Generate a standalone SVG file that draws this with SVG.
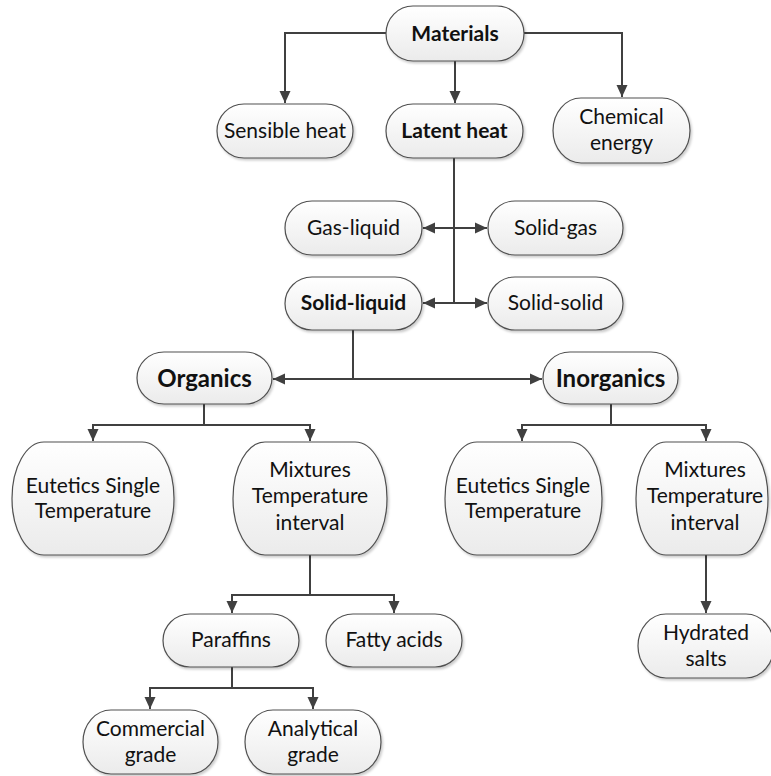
<svg xmlns="http://www.w3.org/2000/svg" width="771" height="776" viewBox="0 0 771 776">
<style>
.box{fill:url(#g);stroke:#505050;stroke-width:1.2;filter:url(#sh)}
.t{font-family:Lato,"Liberation Sans",sans-serif;font-size:21px;fill:#111;text-anchor:middle}
.b{font-weight:bold}
.big{font-size:24px}
.c{fill:none;stroke:#404040;stroke-width:2}
.a{fill:none;stroke:#404040;stroke-width:2;marker-end:url(#ar)}
</style>
<defs>
<linearGradient id="g" x1="0" y1="0" x2="0" y2="1"><stop offset="0" stop-color="#ffffff"/><stop offset="1" stop-color="#ebebeb"/></linearGradient>
<filter id="sh" x="-10%" y="-10%" width="130%" height="130%"><feDropShadow dx="1.5" dy="2" stdDeviation="1.2" flood-color="#000" flood-opacity="0.2"/></filter>
<marker id="ar" markerWidth="12" markerHeight="12" viewBox="0 0 12 12" refX="12" refY="6" orient="auto" markerUnits="userSpaceOnUse"><path d="M0,0.5 L12,6 L0,11.5 Z" fill="#404040"/></marker>
</defs>
<rect width="771" height="776" fill="#fff"/>
<g id="connectors">
<path class="a" d="M386,33 H285 V103"/>
<path class="a" d="M455,61 V103"/>
<path class="a" d="M524,33 H622 V97"/>
<path class="c" d="M454,158 V303"/>
<path class="a" d="M454,228 H423"/>
<path class="a" d="M454,228 H487"/>
<path class="a" d="M454,303 H423"/>
<path class="a" d="M454,303 H487"/>
<path class="c" d="M353,330 V379"/>
<path class="a" d="M353,379 H273"/>
<path class="a" d="M353,379 H542"/>
<path class="a" d="M204,404 V425 H93 V441"/>
<path class="a" d="M204,425 H310 V441"/>
<path class="a" d="M611,404 V425 H522 V441"/>
<path class="a" d="M611,425 H706 V441"/>
<path class="a" d="M310,555 V595 H232 V613"/>
<path class="a" d="M310,595 H394 V613"/>
<path class="a" d="M232,667 V688 H150 V709"/>
<path class="a" d="M232,688 H313 V709"/>
<path class="a" d="M706,555 V613"/>
</g>
<g id="materials"><rect class="box" x="386" y="6" width="138" height="55" rx="27" ry="27.5"/><text class="t b" x="455" y="41">Materials</text></g>
<g id="sensible"><rect class="box" x="217" y="104" width="136" height="54" rx="27" ry="27"/><text class="t" x="285" y="138">Sensible heat</text></g>
<g id="latent"><rect class="box" x="386" y="104" width="137" height="54" rx="27" ry="27"/><text class="t b" x="454.5" y="138">Latent heat</text></g>
<g id="chemical"><rect class="box" x="553" y="98" width="137" height="65" rx="28" ry="32.5"/><text class="t" x="621.5" y="124">Chemical</text><text class="t" x="621.5" y="150">energy</text></g>
<g id="gasliquid"><rect class="box" x="285" y="201" width="137" height="54" rx="27" ry="27"/><text class="t" x="353.5" y="235">Gas-liquid</text></g>
<g id="solidgas"><rect class="box" x="488" y="201" width="135" height="54" rx="27" ry="27"/><text class="t" x="555.5" y="235">Solid-gas</text></g>
<g id="solidliquid"><rect class="box" x="285" y="277" width="137" height="53" rx="27" ry="26.5"/><text class="t b" x="353.5" y="310">Solid-liquid</text></g>
<g id="solidsolid"><rect class="box" x="488" y="277" width="135" height="53" rx="27" ry="26.5"/><text class="t" x="555.5" y="310">Solid-solid</text></g>
<g id="organics"><rect class="box" x="137" y="352" width="135" height="52" rx="27" ry="26"/><text class="t b big" x="204.5" y="387">Organics</text></g>
<g id="inorganics"><rect class="box" x="543" y="352" width="135" height="52" rx="27" ry="26"/><text class="t b big" x="610.5" y="387">Inorganics</text></g>
<g id="eutetics-org"><rect class="box" x="12" y="442" width="162" height="113" rx="32" ry="56.5"/><text class="t" x="93" y="493">Eutetics Single</text><text class="t" x="93" y="518">Temperature</text></g>
<g id="mixtures-org"><rect class="box" x="233" y="442" width="154" height="113" rx="32" ry="56.5"/><text class="t" x="310" y="477">Mixtures</text><text class="t" x="310" y="503">Temperature</text><text class="t" x="310" y="530">interval</text></g>
<g id="eutetics-inorg"><rect class="box" x="445" y="442" width="157" height="113" rx="32" ry="56.5"/><text class="t" x="523" y="493">Eutetics Single</text><text class="t" x="523" y="518">Temperature</text></g>
<g id="mixtures-inorg"><rect class="box" x="636" y="442" width="132" height="113" rx="30" ry="56.5"/><text class="t" x="705" y="477">Mixtures</text><text class="t" x="705" y="503">Temperature</text><text class="t" x="705" y="530">interval</text></g>
<g id="paraffins"><rect class="box" x="163" y="614" width="136" height="53" rx="27" ry="26.5"/><text class="t" x="231" y="647">Paraffins</text></g>
<g id="fattyacids"><rect class="box" x="326" y="614" width="136" height="53" rx="27" ry="26.5"/><text class="t" x="394" y="647">Fatty acids</text></g>
<g id="hydrated"><rect class="box" x="638" y="614" width="136" height="64" rx="28" ry="32"/><text class="t" x="706" y="640">Hydrated</text><text class="t" x="706" y="666">salts</text></g>
<g id="commercial"><rect class="box" x="83" y="710" width="135" height="64" rx="28" ry="32"/><text class="t" x="150.5" y="736">Commercial</text><text class="t" x="150.5" y="762">grade</text></g>
<g id="analytical"><rect class="box" x="245" y="710" width="136" height="64" rx="28" ry="32"/><text class="t" x="313" y="736">Analytical</text><text class="t" x="313" y="762">grade</text></g>
</svg>
